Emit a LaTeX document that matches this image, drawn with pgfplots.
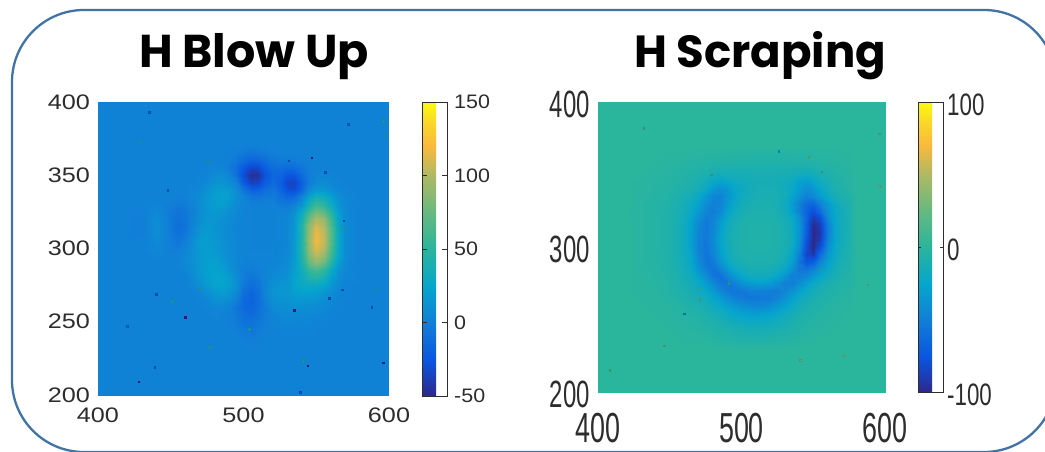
\documentclass[border=0pt]{standalone}
\usepackage{pgfplots}
\pgfplotsset{compat=1.18}
\usepackage{fontspec}
\setmainfont{Liberation Sans}
\newfontfamily\tf{Poppins}
\definecolor{framec}{RGB}{65,115,165}
\definecolor{labc}{RGB}{45,45,45}
\pgfplotsset{colormap={parula}{rgb255(0cm)=(45,40,140) rgb255(12cm)=(10,85,225) rgb255(25cm)=(17,127,215) rgb255(37cm)=(5,165,205) rgb255(50cm)=(42,181,157) rgb255(62cm)=(100,185,130) rgb255(75cm)=(175,185,100) rgb255(85cm)=(250,185,60) rgb255(93cm)=(250,215,40) rgb255(100cm)=(250,250,15)}}
\newcommand\Row[2]{\foreach \v [count=\i from 0] in {#2}{\pgfmathtruncatemacro\xx{420+5*\i}\xdef\Grid{\Grid(\xx,#1,\v) }}}
\newcommand\LF[1]{{\fontsize{21}{21}\selectfont\textcolor{labc}{\scalebox{1.2}[1]{#1}}}}
\newcommand\LC[1]{{\fontsize{19.5}{20}\selectfont\textcolor{labc}{\scalebox{1.1}[1]{#1}}}}
\newcommand\RY[1]{{\fontsize{38}{38}\selectfont\textcolor{labc}{\scalebox{0.63}[1]{#1}}}}
\newcommand\RX[1]{{\fontsize{42}{42}\selectfont\textcolor{labc}{\scalebox{0.64}[1]{#1}}}}
\newcommand\RC[1]{{\fontsize{31}{31}\selectfont\textcolor{labc}{\scalebox{0.72}[1]{#1}}}}
\gdef\Grid{}
\Row{370}{2,2,2,2,2,2,2,2,2,2,2,2,2,2,2,1,0,0,0,1,1,2,2,2,2,2,2,2,2,2,2,2,2}
\Row{365}{2,2,2,2,2,2,2,2,2,2,2,2,2,2,1,-1,-3,-6,-5,-3,0,1,1,1,2,2,2,2,2,2,2,2,2}
\Row{360}{2,2,2,2,2,2,2,2,2,2,2,2,2,2,0,-5,-12,-18,-18,-11,-5,-3,-3,-3,-1,1,2,2,2,2,2,2,2}
\Row{355}{2,2,2,2,2,2,2,2,2,2,2,2,4,3,-2,-10,-23,-35,-33,-21,-11,-10,-13,-12,-6,-1,2,2,2,2,2,2,2}
\Row{350}{2,2,2,2,2,2,2,2,2,2,2,4,8,9,3,-9,-29,-46,-44,-26,-15,-16,-24,-25,-12,-1,3,3,3,2,2,2,2}
\Row{345}{2,2,2,2,2,2,2,2,2,2,4,7,11,13,10,3,-20,-36,-33,-20,-12,-18,-34,-36,-18,-2,7,8,5,3,2,2,2}
\Row{340}{2,2,2,2,2,2,2,2,2,4,6,12,18,20,17,8,-6,-17,-17,-10,-6,-15,-28,-30,-14,8,17,16,10,5,3,2,2}
\Row{335}{2,2,2,2,2,2,2,0,1,5,9,15,20,22,18,10,4,-5,-5,-2,-2,-8,-14,-12,5,25,38,33,22,11,5,3,2}
\Row{330}{2,2,2,3,4,2,-1,-3,-2,3,9,15,19,19,14,7,4,1,1,2,1,-2,-3,1,15,40,58,50,32,14,6,3,2}
\Row{325}{2,1,1,3,6,3,-3,-7,-5,2,8,14,17,14,9,5,3,2,2,2,2,3,3,10,30,60,80,72,46,20,7,3,2}
\Row{320}{2,0,0,4,9,5,-4,-9,-6,3,10,15,14,11,7,4,3,2,2,2,2,3,4,13,40,78,100,90,58,24,8,3,2}
\Row{315}{2,0,0,4,10,5,-4,-10,-7,4,12,16,14,10,7,4,3,2,2,2,2,3,5,14,46,90,112,100,66,26,8,3,2}
\Row{310}{2,0,0,4,9,5,-3,-8,-4,6,15,18,15,11,7,5,3,2,2,2,2,3,5,15,46,92,116,104,68,28,8,3,2}
\Row{305}{2,1,1,3,7,4,-2,-5,0,10,18,19,16,11,7,5,3,2,2,2,2,3,5,16,47,95,118,105,68,28,8,3,2}
\Row{300}{2,2,2,3,5,3,0,-1,4,11,18,20,17,12,8,5,3,2,2,2,3,4,5,16,47,92,112,100,64,26,8,3,2}
\Row{295}{2,2,2,2,3,2,2,2,6,11,17,20,19,14,9,5,3,3,3,3,3,4,6,16,45,85,102,90,56,25,8,3,2}
\Row{290}{2,2,2,2,2,2,2,3,6,11,17,21,21,16,10,5,2,1,2,3,4,5,7,18,42,74,88,74,44,18,6,3,2}
\Row{285}{2,2,2,2,2,2,2,2,5,10,16,21,23,20,13,6,0,-2,0,3,5,7,9,20,35,55,62,50,28,12,5,3,2}
\Row{280}{2,2,2,2,2,2,2,2,2,7,14,20,24,24,19,10,0,-6,-3,3,7,10,12,24,32,42,45,36,20,9,4,3,2}
\Row{275}{2,2,2,2,2,2,2,2,2,5,10,17,22,24,20,10,-4,-11,-7,3,11,14,14,24,28,30,30,24,14,7,3,2,2}
\Row{270}{2,2,2,2,2,2,2,2,2,2,5,10,16,18,15,7,-9,-15,-9,4,13,15,15,20,22,22,20,15,9,4,3,2,2}
\Row{265}{2,2,2,2,2,2,2,2,2,2,3,6,10,10,8,0,-13,-17,-11,2,10,13,12,14,15,14,12,9,6,3,2,2,2}
\Row{260}{2,2,2,2,2,2,2,2,2,2,2,3,5,5,2,-5,-14,-16,-10,-2,7,9,9,10,10,9,8,6,4,3,2,2,2}
\Row{255}{2,2,2,2,2,2,2,2,2,2,2,2,3,2,0,-4,-10,-12,-7,-1,4,6,7,7,6,6,5,4,3,2,2,2,2}
\Row{250}{2,2,2,2,2,2,2,2,2,2,2,2,2,2,0,-2,-7,-8,-5,0,3,4,5,5,4,4,3,3,2,2,2,2,2}
\Row{245}{2,2,2,2,2,2,2,2,2,2,2,2,2,2,1,0,-3,-5,-2,1,2,3,3,3,3,3,2,2,2,2,2,2,2}
\Row{240}{2,2,2,2,2,2,2,2,2,2,2,2,2,2,2,1,-1,-2,0,2,2,2,2,2,2,2,2,2,2,2,2,2,2}
\Row{235}{2,2,2,2,2,2,2,2,2,2,2,2,2,2,2,2,1,0,1,2,2,2,2,2,2,2,2,2,2,2,2,2,2}
\Row{230}{2,2,2,2,2,2,2,2,2,2,2,2,2,2,2,2,2,2,2,2,2,2,2,2,2,2,2,2,2,2,2,2,2}
\global\let\GridA\Grid
\gdef\Grid{}
\Row{370}{0,0,0,0,0,0,0,0,0,0,0,0,0,0,0,0,0,0,0,0,0,0,0,0,0,0,0,0,0,0,0,0,0}
\Row{365}{0,0,0,0,0,-1,-1,-1,-1,-1,-2,-2,-2,-2,-3,-3,-3,-3,-4,-4,-4,-4,-4,-3,-3,-3,-3,-2,-2,-2,-1,-1,0}
\Row{360}{0,0,0,0,-1,-1,-1,-2,-2,-3,-3,-4,-4,-5,-5,-6,-6,-6,-6,-6,-6,-6,-6,-5,-5,-5,-4,-3,-3,-2,-2,-1,0}
\Row{355}{0,0,0,-1,-1,-2,-2,-3,-4,-4,-5,-6,-8,-9,-9,-10,-10,-10,-10,-10,-10,-10,-10,-10,-10,-10,-8,-7,-5,-4,-3,-2,0}
\Row{350}{0,0,-1,-1,-2,-2,-3,-4,-5,-6,-8,-11,-14,-16,-15,-14,-14,-13,-12,-12,-12,-12,-13,-14,-17,-20,-17,-13,-9,-6,-4,-2,0}
\Row{345}{0,-1,-1,-2,-2,-3,-4,-5,-6,-8,-11,-16,-23,-28,-25,-20,-17,-15,-14,-13,-13,-14,-16,-20,-28,-33,-26,-18,-12,-8,-5,-3,0}
\Row{340}{0,-1,-1,-2,-3,-3,-4,-6,-8,-10,-14,-22,-34,-40,-36,-26,-20,-16,-13,-12,-12,-13,-16,-22,-32,-40,-36,-25,-16,-10,-7,-4,0}
\Row{335}{0,-1,-2,-2,-3,-4,-6,-8,-11,-15,-22,-34,-46,-48,-38,-26,-18,-14,-12,-11,-11,-12,-16,-26,-38,-48,-44,-32,-20,-13,-9,-6,-1}
\Row{330}{0,-1,-2,-3,-4,-5,-7,-10,-14,-20,-28,-42,-50,-48,-34,-22,-15,-12,-10,-10,-10,-12,-18,-32,-48,-62,-65,-50,-32,-20,-13,-9,-1}
\Row{325}{0,-2,-2,-3,-4,-6,-8,-11,-15,-22,-34,-46,-52,-44,-28,-18,-12,-10,-9,-9,-9,-11,-18,-30,-48,-66,-78,-62,-36,-22,-14,-9,-1}
\Row{320}{0,-2,-2,-3,-4,-6,-8,-11,-17,-26,-40,-52,-48,-36,-22,-14,-10,-8,-8,-8,-8,-10,-14,-22,-38,-65,-90,-78,-42,-24,-15,-10,-1}
\Row{315}{0,-1,-2,-3,-4,-6,-8,-12,-18,-28,-44,-54,-46,-30,-18,-12,-8,-7,-7,-7,-7,-8,-12,-20,-36,-68,-98,-88,-48,-25,-15,-10,-1}
\Row{310}{0,-1,-2,-3,-4,-6,-8,-12,-18,-29,-46,-54,-44,-28,-16,-11,-8,-7,-7,-7,-7,-8,-11,-18,-36,-70,-100,-92,-50,-25,-15,-10,-1}
\Row{305}{0,-1,-2,-3,-4,-6,-8,-12,-18,-30,-48,-54,-42,-26,-16,-10,-8,-7,-7,-7,-7,-8,-11,-18,-38,-75,-100,-88,-46,-24,-15,-10,-1}
\Row{300}{0,-1,-2,-3,-4,-6,-8,-12,-18,-29,-48,-55,-44,-28,-17,-11,-8,-7,-7,-7,-7,-8,-12,-20,-42,-80,-100,-78,-40,-22,-14,-9,-1}
\Row{295}{0,-1,-2,-3,-4,-6,-8,-12,-18,-27,-46,-56,-46,-30,-19,-12,-9,-8,-8,-8,-8,-9,-14,-24,-50,-85,-92,-62,-34,-20,-13,-8,-1}
\Row{290}{0,-1,-2,-3,-4,-5,-8,-11,-17,-25,-42,-55,-52,-37,-23,-15,-11,-9,-9,-9,-9,-11,-17,-30,-55,-75,-70,-46,-28,-18,-11,-7,-1}
\Row{285}{0,-1,-2,-2,-3,-5,-7,-10,-15,-22,-36,-50,-56,-48,-34,-22,-16,-13,-12,-12,-13,-16,-24,-40,-55,-58,-48,-34,-22,-14,-9,-6,-1}
\Row{280}{0,-1,-1,-2,-3,-4,-6,-10,-14,-19,-28,-42,-54,-58,-46,-34,-24,-19,-17,-17,-19,-25,-36,-50,-52,-44,-34,-24,-16,-11,-7,-5,-1}
\Row{275}{0,-1,-1,-2,-2,-4,-6,-9,-12,-16,-22,-32,-44,-54,-56,-48,-38,-32,-30,-30,-33,-40,-50,-50,-40,-30,-22,-16,-11,-8,-5,-4,-1}
\Row{270}{0,-1,-1,-1,-2,-3,-5,-7,-10,-13,-17,-24,-33,-44,-52,-55,-54,-50,-49,-49,-51,-52,-46,-38,-28,-21,-15,-11,-8,-6,-4,-3,-1}
\Row{265}{0,0,-1,-1,-2,-3,-4,-6,-8,-10,-13,-18,-24,-32,-40,-48,-52,-54,-54,-54,-52,-46,-38,-28,-20,-15,-11,-8,-6,-4,-3,-2,0}
\Row{260}{0,0,0,-1,-1,-2,-3,-4,-6,-8,-10,-13,-18,-24,-30,-36,-42,-44,-46,-45,-42,-36,-28,-21,-15,-11,-8,-6,-4,-3,-2,-1,0}
\Row{255}{0,0,0,0,-1,-1,-2,-3,-4,-6,-7,-10,-13,-17,-22,-26,-30,-32,-33,-32,-30,-25,-20,-15,-11,-8,-6,-4,-3,-2,-1,-1,0}
\Row{250}{0,0,0,0,0,-1,-1,-2,-3,-4,-5,-7,-9,-12,-15,-18,-20,-22,-22,-22,-20,-17,-14,-11,-8,-6,-4,-3,-2,-1,-1,0,0}
\Row{245}{0,0,0,0,0,0,-1,-1,-2,-3,-3,-5,-6,-8,-10,-12,-14,-15,-15,-15,-14,-12,-10,-8,-6,-4,-3,-2,-1,-1,0,0,0}
\Row{240}{0,0,0,0,0,0,0,-1,-1,-2,-2,-3,-4,-6,-7,-8,-9,-10,-10,-10,-9,-8,-7,-5,-4,-3,-2,-1,-1,0,0,0,0}
\Row{235}{0,0,0,0,0,0,0,0,-1,-1,-1,-2,-2,-3,-4,-5,-6,-6,-6,-6,-5,-5,-4,-3,-2,-1,-1,0,0,0,0,0,0}
\Row{230}{0,0,0,0,0,0,0,0,0,0,0,0,0,0,0,0,0,0,0,0,0,0,0,0,0,0,0,0,0,0,0,0,0}
\global\let\GridB\Grid
\begin{document}%
\begin{tikzpicture}
\path[use as bounding box] (0,0) rectangle (1045pt,451pt);
\begin{scope}
\clip (0,0) rectangle (1045pt,451pt);
\draw[framec,line width=2.3pt,rounded corners=72pt] (12pt,-1pt) rectangle (1056pt,441pt);
\end{scope}
\node[anchor=base,inner sep=0pt] at (254pt,384pt) {\tf\bfseries\fontsize{46}{46}\selectfont H Blow Up};
\node[anchor=base,inner sep=0pt] at (760pt,384pt) {\tf\bfseries\fontsize{45}{45}\selectfont H Scraping};
\begin{axis}[at={(98pt,56pt)},anchor=south west,scale only axis,width=291pt,height=293pt,
 view={0}{90},xmin=400,xmax=600,ymin=200,ymax=400,
 axis line style={draw=none},tick style={draw=none},ztick=\empty,
 xtick={400,500,600},ytick={200,250,300,350,400},
 xticklabels={\LF{400},\LF{500},\LF{600}},
 yticklabels={\LF{200},\LF{250},\LF{300},\LF{350},\LF{400}},
 tick label style={inner sep=0pt},xticklabel shift=13pt,yticklabel shift=8pt,
 point meta min=-50,point meta max=150,
 colorbar,
 colorbar style={at={(1.1134,1)},anchor=north west,width=25pt,height=294pt,
  ytick={-50,0,50,100,150},yticklabels={\LC{-50},\LC{0},\LC{50},\LC{100},\LC{150}},
  yticklabel style={inner sep=0pt,anchor=west},yticklabel shift=7pt,
  tick style={draw=labc},axis line style={draw=labc},tick align=inside,major tick length=5pt}]
\addplot3[surf,shader=interp,mesh/cols=2] coordinates {(400,200,2) (600,200,2) (400,400,2) (600,400,2)};
\edef\tmp{\noexpand\addplot3[surf,shader=interp,mesh/cols=33] coordinates {\GridA};}\tmp
\addplot3[scatter,only marks,mark=square*,mark size=0.8pt] coordinates {
(435,393,-20) (428,373,50) (475,360,40) (448,340,-15) (547,362,-50) (556,352,-20) (531,360,-25)
(597,377,50) (572,385,-15) (596,387,40) (569,319,-25) (568,314,50) (440,269,-20) (451,264,40)
(470,273,50) (460,253,-50) (477,233,50) (559,266,-30) (568,272,-15) (591,272,40) (588,260,-20)
(535,258,-50) (544,220,-50) (596,222,-45) (428,209,-50) (539,202,-25) (504,245,40) (541,223,40)
(439,219,-15) (420,247,-10)};
\end{axis}
\begin{axis}[at={(598pt,59pt)},anchor=south west,scale only axis,width=287pt,height=290pt,
 view={0}{90},xmin=400,xmax=600,ymin=200,ymax=400,
 axis line style={draw=none},tick style={draw=none},ztick=\empty,
 xtick={400,500,600},ytick={200,300,400},
 xticklabels={\RX{400},\RX{500},\RX{600}},
 yticklabels={\RY{200},\RY{300},\RY{400}},
 tick label style={inner sep=0pt},xticklabel shift=21pt,yticklabel shift=8pt,
 yticklabel style={yshift=-2pt},
 point meta min=-100,point meta max=100,
 colorbar,
 colorbar style={at={(1.115,1)},anchor=north west,width=25pt,height=290pt,
  ytick={-100,0,100},yticklabels={\RC{-100},\RC{0},\RC{100}},
  yticklabel style={inner sep=0pt,anchor=west,yshift=-3pt},yticklabel shift=4pt,
  tick style={draw=labc},axis line style={draw=labc},tick align=inside,major tick length=3pt}]
\addplot3[surf,shader=interp,mesh/cols=2] coordinates {(400,200,0) (600,200,0) (400,400,0) (600,400,0)};
\edef\tmp{\noexpand\addplot3[surf,shader=interp,mesh/cols=33] coordinates {\GridB};}\tmp
\addplot3[scatter,only marks,mark=square*,mark size=0.7pt] coordinates {
(547,362,28) (596,378,22) (596,342,28) (588,274,25) (571,225,35) (541,222,22) (471,264,22)
(470,272,18) (491,275,5) (555,285,10) (446,232,18) (460,254,-40) (408,215,15) (479,350,10)
(556,352,12) (432,382,10) (526,366,-25)};
\end{axis}
\end{tikzpicture}%
\end{document}
